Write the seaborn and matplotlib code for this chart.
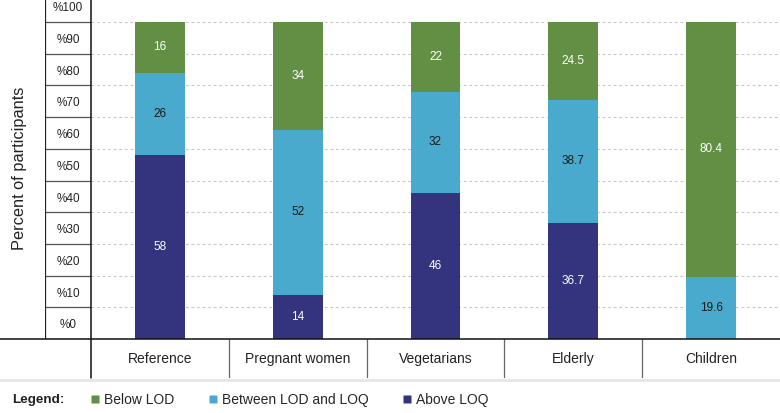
import pandas as pd
import matplotlib.pyplot as plt
import seaborn as sns
from matplotlib.lines import Line2D
from matplotlib.patches import Rectangle

# data
groups = ["Reference", "Pregnant women", "Vegetarians", "Elderly", "Children"]
above_loq = [58, 14, 46, 36.7, 0]
between_lod_loq = [26, 52, 32, 38.7, 19.6]
below_lod = [16, 34, 22, 24.5, 80.4]
tick_values = list(range(0, 101, 10))
series_names = ["Below LOD", "Between LOD and LOQ", "Above LOQ"]
colors = ["#628f43", "#4aaacd", "#33337e"]
label_colors = ["white", "#1a1a1a", "white"]

sns.set_style("white")
plt.rcParams["font.family"] = ["Liberation Sans", "DejaVu Sans"]

W, H = 780, 413


def fx(px):
    return px / W


def fy(py):
    return 1 - py / H


df = pd.DataFrame({
    "group": groups,
    "above": above_loq,
    "between": between_lod_loq,
    "below": below_lod,
})
df["top_between"] = df["above"] + df["between"]
df["top_all"] = df["top_between"] + df["below"]

fig = plt.figure(figsize=(7.8, 4.13), dpi=100)

ymax = 339 / 3.17
ax = fig.add_axes([fx(91), fy(339), fx(780) - fx(91), fy(0) - fy(339)])

# stacked bars: draw cumulative tops from the back to the front
for col, color in zip(["top_all", "top_between", "above"], colors):
    sns.barplot(data=df, x="group", y=col, color=color, width=0.36,
                saturation=1, edgecolor="none", ax=ax)

ax.set_ylim(0, ymax)
ax.set_xlim(-0.5, len(groups) - 0.5)
ax.set_yticks(tick_values)
ax.yaxis.grid(True, linestyle=(0, (2.5, 2.5)), color="#c8c8c8", linewidth=0.8)
ax.set_axisbelow(True)
ax.tick_params(left=False, bottom=False, labelleft=False, labelbottom=False)
ax.set_xlabel("")
ax.set_ylabel("")
for s in ax.spines.values():
    s.set_visible(False)

# segment value labels
for i in range(len(groups)):
    segs = [
        (df["top_between"][i] + df["below"][i] / 2, df["below"][i], 0),
        (df["above"][i] + df["between"][i] / 2, df["between"][i], 1),
        (df["above"][i] / 2, df["above"][i], 2),
    ]
    for ypos, val, k in segs:
        if val > 0:
            ax.text(i, ypos, f"{val:g}", ha="center", va="center",
                    fontsize=8.5, color=label_colors[k])

# tick label column on the left
ax_lab = fig.add_axes([fx(45), fy(339), fx(91) - fx(45), fy(0) - fy(339)])
ax_lab.set_ylim(0, ymax)
ax_lab.set_xlim(0, 1)
ax_lab.axis("off")
for v in tick_values:
    ax_lab.plot([0, 1], [v, v], color="#555555", lw=0.9)
    ax_lab.text(0.5, v + 4.3, f"%{v}", ha="center", va="center",
                fontsize=8.5, color="#222222")
ax_lab.plot([0, 0], [0, ymax], color="#222222", lw=0.9)

# category row
ax_cat = fig.add_axes([fx(91), fy(378), fx(780) - fx(91), fy(339) - fy(378)])
ax_cat.set_xlim(-0.5, len(groups) - 0.5)
ax_cat.set_ylim(0, 1)
ax_cat.axis("off")
for i, g in enumerate(groups):
    ax_cat.text(i, 0.48, g, ha="center", va="center", fontsize=10, color="#222222")
    if i > 0:
        ax_cat.plot([i - 0.5, i - 0.5], [0, 1], color="#666666", lw=0.9)

# frame lines
fig.add_artist(Line2D([0, 1], [fy(339), fy(339)], color="#111111", lw=1.1))
fig.add_artist(Line2D([fx(91), fx(91)], [fy(0), fy(378)], color="#111111", lw=1.1))
fig.add_artist(Rectangle((0, fy(381.5)), 1, fy(378.5) - fy(381.5),
                         color="#ebe7e4", lw=0))

# y label
fig.text(fx(20), fy(168), "Percent of participants", rotation=90,
         ha="center", va="center", fontsize=11.8, color="#222222")

# legend
fig.text(fx(12), fy(400), "Legend:", ha="left", va="center",
         fontsize=9.7, fontweight="bold", color="#222222")
handles = [Line2D([], [], marker="s", linestyle="none", markersize=5.5,
                  markerfacecolor=c, markeredgecolor="none") for c in colors]
fig.legend(handles, series_names, loc="center left",
           bbox_to_anchor=(fx(91), fy(400)), ncol=3, frameon=False,
           fontsize=10, handlelength=0.6, handletextpad=0.35,
           columnspacing=2.48, borderpad=0, borderaxespad=0)

fig.savefig("out.png", dpi=100)
